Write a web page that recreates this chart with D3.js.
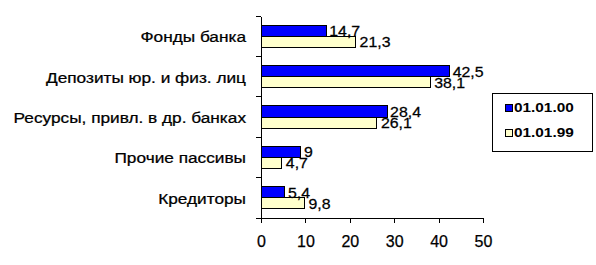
<!DOCTYPE html>
<html>
<head>
<meta charset="utf-8">
<script src="https://cdn.jsdelivr.net/npm/d3@7"></script>
<style>
body { margin: 0; background: #fff; }
svg { display: block; font-family: Arial, "Liberation Sans", sans-serif; }
text { fill: #000; stroke: #000; stroke-width: 0.25px; }
</style>
</head>
<body>
<svg id="chart" width="596" height="265"></svg>
<script>
// data
const CATEGORIES = ['Фонды банка', 'Депозиты юр. и физ. лиц', 'Ресурсы, привл. в др. банках', 'Прочие пассивы', 'Кредиторы'];
const SERIES = ['01.01.00', '01.01.99'];
const VALUES_00 = [14.7, 42.5, 28.4, 9, 5.4];
const VALUES_99 = [21.3, 38.1, 26.1, 4.7, 9.8];
const X_TICKS = [0, 10, 20, 30, 40, 50];
const COLORS = ['#0000ff', '#ffffcc'];

var svg = d3.select('#chart');

var x = d3.scaleLinear().domain([0, 50]).range([261, 483]);
var y = d3.scaleBand().domain(CATEGORIES).range([16, 218]).paddingInner(0.45).paddingOuter(0.225);
var sub = d3.scaleBand().domain(SERIES).range([0, y.bandwidth()]);

var rows = CATEGORIES.map(function(c, i) {
	return { cat: c, vals: [VALUES_00[i], VALUES_99[i]] };
});

// bars
var group = svg.selectAll('g.row')
	.data(rows)
	.enter()
	.append('g')
	.attr('class', 'row')
	.attr('transform', function(d) { return 'translate(0,' + y(d.cat) + ')'; });

group.selectAll('rect')
	.data(function(d) { return d.vals.map(function(v, j) { return { s: SERIES[j], v: v, j: j }; }); })
	.enter()
	.append('rect')
	.attr('x', x(0))
	.attr('y', function(d) { return sub(d.s); })
	.attr('width', function(d) { return x(d.v) - x(0); })
	.attr('height', sub.bandwidth())
	.attr('fill', function(d) { return COLORS[d.j]; })
	.attr('stroke', '#000')
	.attr('stroke-width', 1)
	.attr('shape-rendering', 'crispEdges');

group.selectAll('text')
	.data(function(d) { return d.vals.map(function(v, j) { return { s: SERIES[j], v: v, j: j }; }); })
	.enter()
	.append('text')
	.attr('transform', function(d) {
		return 'translate(' + (x(d.v) + (d.j == 0 ? 3 : 4)) + ',' + (sub(d.s) + sub.bandwidth() / 2 + 5.5) + ') scale(1.06,1)';
	})
	.style('font-size', '15px')
	.text(function(d) { return String(d.v).replace('.', ','); });

// axes
var yAxis = d3.axisLeft(y).tickSize(0).tickFormat('');
var yg = svg.append('g').attr('transform', 'translate(' + x(0) + ',0)').call(yAxis);
yg.select('.domain').attr('stroke', '#000').attr('shape-rendering', 'crispEdges');

// category separator ticks
svg.selectAll('line.cat-tick')
	.data(d3.range(CATEGORIES.length + 1))
	.enter()
	.append('line')
	.attr('class', 'cat-tick')
	.attr('x1', x(0) - 5)
	.attr('x2', x(0))
	.attr('y1', function(i) { return 16 + i * y.step(); })
	.attr('y2', function(i) { return 16 + i * y.step(); })
	.attr('stroke', '#000')
	.attr('shape-rendering', 'crispEdges');

svg.selectAll('text.cat')
	.data(CATEGORIES)
	.enter()
	.append('text')
	.attr('class', 'cat')
	.attr('transform', function(d) {
		return 'translate(246,' + (y(d) + y.bandwidth() / 2 + 6) + ') scale(1.15,1)';
	})
	.attr('text-anchor', 'end')
	.style('font-size', '15px')
	.text(function(d) { return d; });

var xAxis = d3.axisBottom(x).tickValues(X_TICKS).tickSize(5).tickFormat(d3.format('d'));
var xg = svg.append('g').attr('transform', 'translate(0,218)').call(xAxis);
xg.select('.domain').attr('d', 'M' + x(0) + ',0H' + x(50)).attr('stroke', '#000').attr('shape-rendering', 'crispEdges');
xg.selectAll('line').attr('stroke', '#000').attr('shape-rendering', 'crispEdges');
xg.selectAll('text')
	.attr('y', 29)
	.attr('dy', null)
	.style('font-size', '16px')
	.style('font-family', 'Arial, "Liberation Sans", sans-serif');

// legend
var legend = svg.append('g');
legend.append('rect')
	.attr('x', 492.5).attr('y', 93.5)
	.attr('width', 100).attr('height', 58)
	.attr('fill', '#fff').attr('stroke', '#000');

var items = legend.selectAll('g.item')
	.data(SERIES)
	.enter()
	.append('g')
	.attr('class', 'item')
	.attr('transform', function(d, i) { return 'translate(0,' + (111 + i * 25) + ')'; });

items.append('rect')
	.attr('x', 505.5).attr('y', -6.5)
	.attr('width', 7).attr('height', 7)
	.attr('fill', function(d, i) { return COLORS[i]; })
	.attr('stroke', '#000');

items.append('text')
	.attr('transform', 'translate(514,0.5) scale(1.28,1)')
	.style('font-size', '12px')
	.style('font-weight', 'bold')
	.style('stroke-width', '0')
	.text(function(d) { return d; });
</script>
</body>
</html>
